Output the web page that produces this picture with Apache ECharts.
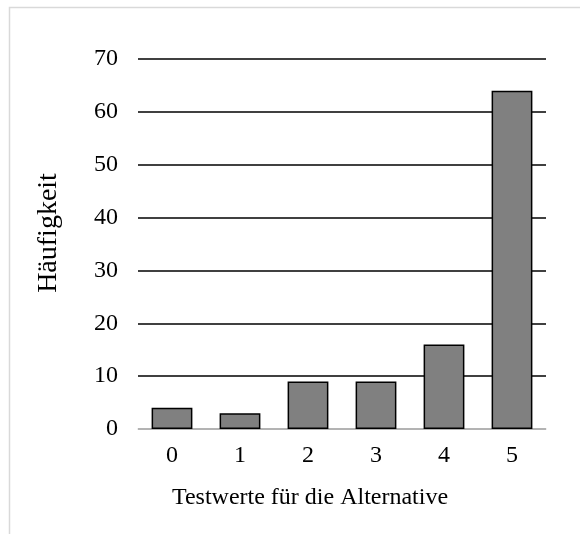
<!DOCTYPE html>
<html><head><meta charset="utf-8">
<script src="https://cdn.jsdelivr.net/npm/echarts@6/dist/echarts.min.js"></script>
<style>html,body{margin:0;padding:0;background:#fff}#c{width:580px;height:534px}</style>
</head><body><div id="c"></div>
<script>
const categories = ['0','1','2','3','4','5'];
const counts = [4, 3, 9, 9, 16, 64];
const yTicks = [0,10,20,30,40,50,60,70];
const xName = 'Testwerte für die Alternative';
const yName = 'Häufigkeit';
const font = '"Liberation Serif","DejaVu Serif",serif';
const chart = echarts.init(document.getElementById('c'), null, {renderer:'canvas'});
chart.setOption({
  animation:false,
  backgroundColor:'#fff',
  graphic:[
    {type:'rect',shape:{x:9.5,y:7.5,width:700,height:700},style:{fill:'none',stroke:'#d9d9d9',lineWidth:1.5}},
    {type:'text',x:49,y:233,rotation:Math.PI/2,
      style:{text:yName,fill:'#000',font:'28px '+font,textAlign:'center',textVerticalAlign:'middle'}},
    {type:'text',x:310,y:498,
      style:{text:xName,fill:'#000',font:'24px '+font,textAlign:'center',textVerticalAlign:'middle'}}
  ],
  grid:{left:138,right:34,top:59,bottom:105,containLabel:false},
  xAxis:{type:'category',data:categories,
    axisLine:{show:true,lineStyle:{color:'#d9d9d9',width:1.5}},
    axisTick:{show:false},
    axisLabel:{color:'#000',fontFamily:font,fontSize:24,margin:15}},
  yAxis:{type:'value',min:yTicks[0],max:yTicks[yTicks.length-1],interval:10,
    axisLine:{show:false},axisTick:{show:false},
    splitLine:{lineStyle:{color:'#000',width:1.5}},
    axisLabel:{color:'#000',fontFamily:font,fontSize:24,margin:20}},
  series:[{type:'bar',data:counts,barCategoryGap:'40%',
    itemStyle:{color:'#808080',borderColor:'#000',borderWidth:1.5}}]
});
</script></body></html>
